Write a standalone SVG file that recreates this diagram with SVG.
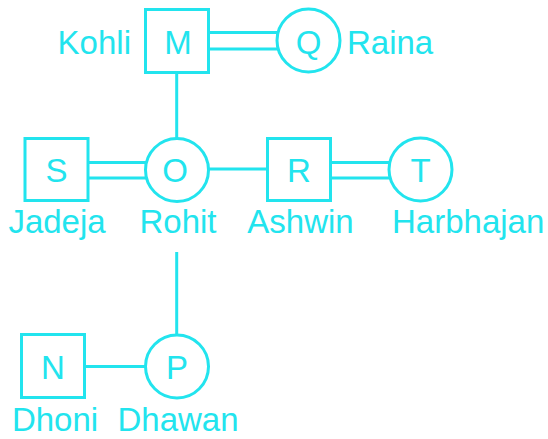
<svg xmlns="http://www.w3.org/2000/svg" width="548" height="439" viewBox="0 0 548 439">
<style>
.ln{stroke:#22e4ee;stroke-width:3;fill:none}
.nd{stroke:#22e4ee;stroke-width:3;fill:#ffffff}
text{font-family:"Liberation Sans",Arial,sans-serif;font-size:33px;fill:#22e4ee}
.c{text-anchor:middle}
.e{text-anchor:end}
.s{text-anchor:start}
</style>
<rect width="548" height="439" fill="#ffffff"/>
<g id="connectors">
<line class="ln" x1="208" y1="32.5" x2="280" y2="32.5"/>
<line class="ln" x1="208" y1="49" x2="280" y2="49"/>
<line class="ln" x1="176.7" y1="72" x2="176.7" y2="140"/>
<line class="ln" x1="88" y1="162.5" x2="150" y2="162.5"/>
<line class="ln" x1="88" y1="178" x2="150" y2="178"/>
<line class="ln" x1="205" y1="169" x2="268" y2="169"/>
<line class="ln" x1="330" y1="162.5" x2="395" y2="162.5"/>
<line class="ln" x1="330" y1="178" x2="395" y2="178"/>
<line class="ln" x1="176.7" y1="252" x2="176.7" y2="340"/>
<line class="ln" x1="84" y1="366.5" x2="150" y2="366.5"/>
</g>
<g id="node-M">
<rect class="nd" x="145.5" y="9.5" width="63" height="63"/>
<text class="c" x="178" y="53.5">M</text>
<text class="e" x="131" y="54">Kohli</text>
</g>
<g id="node-Q">
<circle class="nd" cx="308.5" cy="40.5" r="31.5"/>
<text class="c" x="308.5" y="53.5">Q</text>
<text class="s" x="347" y="54">Raina</text>
</g>
<g id="node-S">
<rect class="nd" x="25" y="138.5" width="63" height="62"/>
<text class="c" x="56.5" y="181.5">S</text>
<text class="c" x="57" y="232.5">Jadeja</text>
</g>
<g id="node-O">
<circle class="nd" cx="177" cy="170" r="31.5"/>
<text class="c" x="175" y="182">O</text>
<text class="c" x="178" y="232.5">Rohit</text>
</g>
<g id="node-R">
<rect class="nd" x="267.5" y="138.5" width="63" height="62"/>
<text class="c" x="299" y="182">R</text>
<text class="c" x="300.5" y="233">Ashwin</text>
</g>
<g id="node-T">
<circle class="nd" cx="420.5" cy="169.5" r="31.5"/>
<text class="c" x="420.5" y="182">T</text>
<text class="s" x="392" y="233">Harbhajan</text>
</g>
<g id="node-N">
<rect class="nd" x="21.5" y="334.5" width="63" height="63"/>
<text class="c" x="53" y="379">N</text>
<text class="c" x="55" y="431">Dhoni</text>
</g>
<g id="node-P">
<circle class="nd" cx="177" cy="366.5" r="31.5"/>
<text class="c" x="177" y="379">P</text>
<text class="c" x="178" y="431">Dhawan</text>
</g>
</svg>
